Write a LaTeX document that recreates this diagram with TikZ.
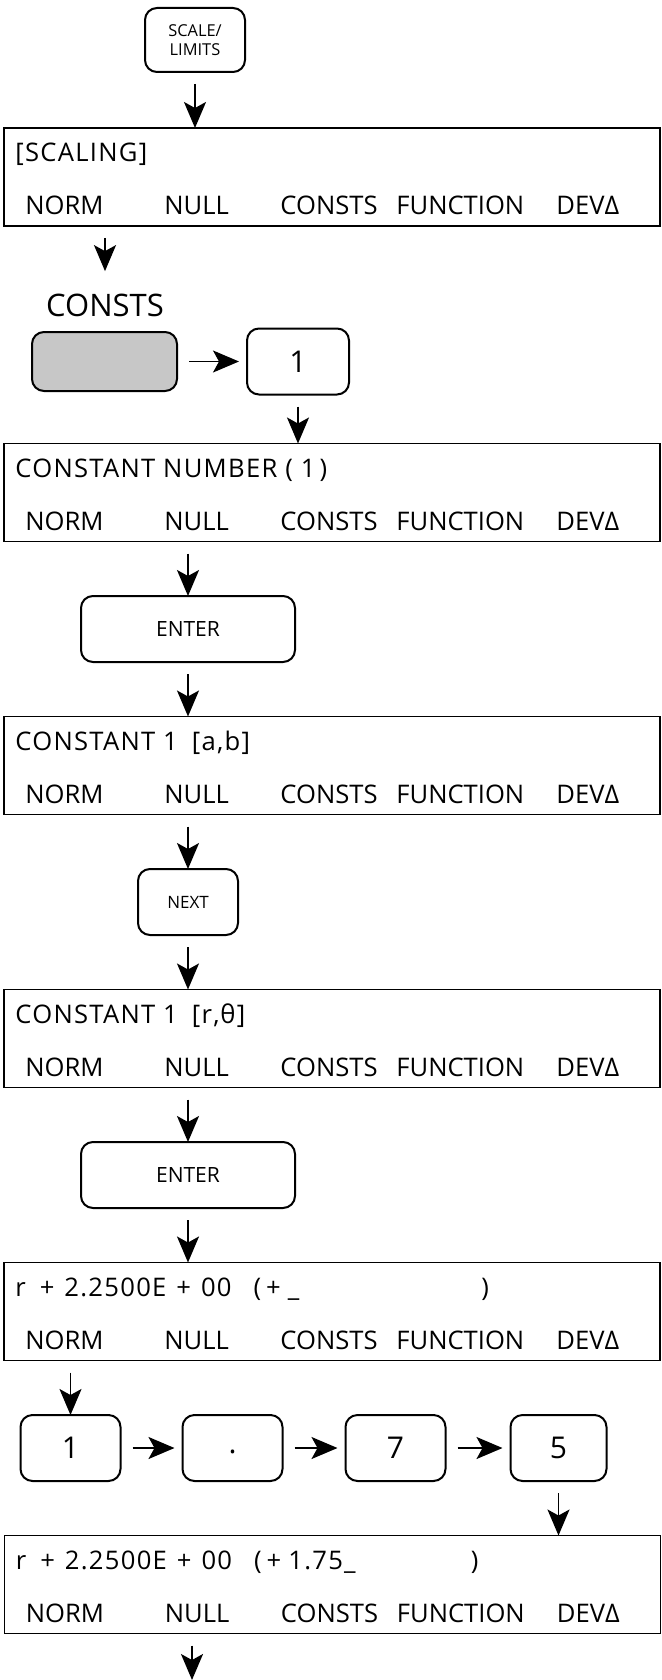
\documentclass[tikz,border=0pt]{standalone}
\usepackage{fontspec}
\setmainfont{Open Sans}
\newfontfamily\scrfont[LetterSpace=5]{Open Sans}
\usetikzlibrary{arrows.meta,positioning}
\newcommand{\softkeys}{\makebox[69.5pt][l]{NORM}\makebox[58pt][l]{NULL}\makebox[58pt][l]{CONSTS}\makebox[80pt][l]{FUNCTION}DEVΔ}
\tikzset{
  screen/.style={draw, line width=0.7pt, minimum width=328pt, minimum height=49pt, inner sep=0pt, outer sep=0pt},
  ttl/.style={anchor=base west, inner sep=0pt, font=\scrfont\fontsize{12.8}{14}\selectfont},
  mnu/.style={anchor=base west, inner sep=0pt, font=\fontsize{12.8}{14}\selectfont},
  key/.style={draw, rounded corners=6pt, line width=1pt, align=center, inner sep=0pt, outer sep=0pt, minimum height=33pt},
  entkey/.style={key, minimum width=107pt, font=\fontsize{10.5}{12}\selectfont},
  dig/.style={key, minimum width=50pt, text height=10.7pt, text depth=0pt, font=\fontsize{15}{17}\selectfont},
  arr/.style={-{Stealth[length=13pt,width=11pt,inset=3pt]}, line width=0.9pt, shorten <=6pt},
  harr/.style={arr, shorten <=6pt, shorten >=4pt},
}
\begin{document}
\begin{tikzpicture}[x=0.5pt, y=-0.5pt, node distance=27.25pt and 31.5pt]
\useasboundingbox (0,0) rectangle (661,1680);
\node[key, minimum width=50pt, minimum height=32pt, font=\fontsize{8.2}{9.5}\selectfont] (sl) at (195,40) {SCALE/\\LIMITS};
\node[screen, below=28pt of sl, xshift=68.5pt] (scr1) {};
\node[ttl] (t1) at ([xshift=5.5pt,yshift=-17pt]scr1.north west) {[SCALING]};
\node[mnu] (m1) at ([xshift=10.5pt,yshift=-43.5pt]scr1.north west) {\softkeys};
\node[anchor=base, inner sep=0pt, font=\fontsize{15.5}{18}\selectfont] (cstlbl) at (105,316) {CONSTS};
\node[key, fill=black!22, minimum width=72.5pt, minimum height=29.5pt] (cst) at (104.5,361.5) {};
\node[key, right=35pt of cst, minimum width=51pt, font=\fontsize{15}{17}\selectfont] (k1) {1};
\node[screen, below=24.5pt of k1, xshift=17pt] (scr2) {};
\node[ttl] (t2) at ([xshift=5.5pt,yshift=-17pt]scr2.north west) {CONSTANT NUMBER (\hspace{4pt}1\hspace{2pt})};
\node[mnu] (m2) at ([xshift=10.5pt,yshift=-43.5pt]scr2.north west) {\softkeys};
\node[entkey, below=of scr2, xshift=-72pt] (ent1) {ENTER};
\node[screen, below=of ent1, xshift=72pt] (scr3) {};
\node[ttl] (t3) at ([xshift=5.5pt,yshift=-17pt]scr3.north west) {CONSTANT 1\hspace{7pt}[a,b]};
\node[mnu] (m3) at ([xshift=10.5pt,yshift=-43.5pt]scr3.north west) {\softkeys};
\node[key, below=of scr3, xshift=-72pt, minimum width=50pt, font=\fontsize{8.5}{10}\selectfont] (nxt) {NEXT};
\node[screen, below=of nxt, xshift=72pt] (scr4) {};
\node[ttl] (t4) at ([xshift=5.5pt,yshift=-17pt]scr4.north west) {CONSTANT 1\hspace{7pt}[r,θ]};
\node[mnu] (m4) at ([xshift=10.5pt,yshift=-43.5pt]scr4.north west) {\softkeys};
\node[entkey, below=of scr4, xshift=-72pt] (ent2) {ENTER};
\node[screen, below=of ent2, xshift=72pt] (scr5) {};
\node[ttl] (t5) at ([xshift=5.5pt,yshift=-17pt]scr5.north west) {\makebox[233pt][l]{r\hspace{7pt}+\hspace{5pt}2.2500E\hspace{5pt}+\hspace{5pt}00\hspace{11pt}(\hspace{2.5pt}+\hspace{3.5pt}\_})};
\node[mnu] (m5) at ([xshift=10.5pt,yshift=-43.5pt]scr5.north west) {\softkeys};
\node[dig, below=of scr5, xshift=-130.75pt] (d1) {1};
\node[dig, right=31pt of d1] (dp) {\raisebox{2.5pt}{.}};
\node[dig, right=of dp] (d7) {7};
\node[dig, right=32.5pt of d7, minimum width=48pt] (d5) {5};
\node[screen, below=of d5, xshift=-113pt] (scr6) {};
\node[ttl] (t6) at ([xshift=5.5pt,yshift=-17pt]scr6.north west) {\makebox[227.5pt][l]{r\hspace{7pt}+\hspace{5pt}2.2500E\hspace{5pt}+\hspace{5pt}00\hspace{11pt}(\hspace{2.5pt}+\hspace{3.5pt}1.75\_})};
\node[mnu] (m6) at ([xshift=10.5pt,yshift=-43.5pt]scr6.north west) {\softkeys};
\coordinate (out) at (192,1680);
\draw[arr] (sl) -- (sl |- scr1.north);
\draw[arr, shorten >=11pt] (cstlbl.north |- scr1.south) -- (cstlbl.north);
\draw[harr] (cst) -- (k1);
\draw[arr] (k1) -- (k1 |- scr2.north);
\draw[arr] (ent1 |- scr2.south) -- (ent1);
\draw[arr] (ent1) -- (ent1 |- scr3.north);
\draw[arr] (nxt |- scr3.south) -- (nxt);
\draw[arr] (nxt) -- (nxt |- scr4.north);
\draw[arr] (ent2 |- scr4.south) -- (ent2);
\draw[arr] (ent2) -- (ent2 |- scr5.north);
\draw[arr] (d1 |- scr5.south) -- (d1);
\draw[harr] (d1) -- (dp); \draw[harr] (dp) -- (d7); \draw[harr] (d7) -- (d5);
\draw[arr] (d5) -- (d5 |- scr6.north);
\draw[arr] (out |- scr6.south) -- (out);
\end{tikzpicture}
\end{document}
